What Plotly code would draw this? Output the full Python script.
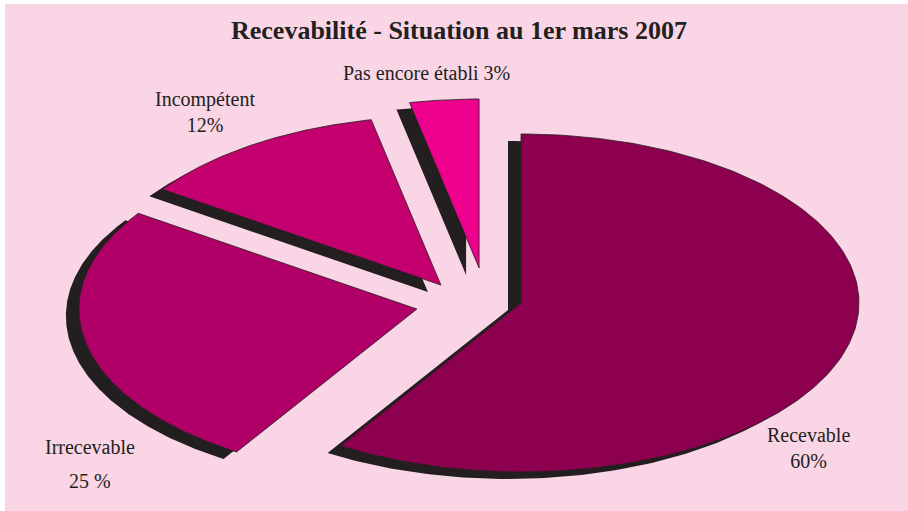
import numpy as np
import plotly.graph_objects as go

# ---- data ----
categories = ["Recevable", "Irrecevable", "Incompétent", "Pas encore établi"]
values = [58.9, 25.6, 12.1, 3.3]           # share of the pie
pct_labels = ["60%", "25 %", "12%", "3%"]  # percentages as printed on the chart
title_text = "Recevabilité - Situation au 1er mars 2007"

# ---- style ----
colors = ["#8c004f", "#b00068", "#c4006f", "#ec008c"]
bg = "#f9d5e5"
shadow_color = "#231f20"
# per-slice explosion offsets (in pie-radius units)
explode = [(0.071, 0.012), (-0.237, -0.024), (-0.166, 0.118), (-0.053, 0.219)]
shadow_off = (-13 / 338, -7 / 169)

W, H = 908, 511
CX, CY = 497, 305      # pie centre in pixels
RX, RY = 338, 169      # pie radii in pixels

fig = go.Figure()

total = sum(values)
start = 90.0
wedges = []
for v, (ox, oy) in zip(values, explode):
    end = start - v / total * 360.0
    t = np.radians(np.linspace(start, end, 200))
    xs = np.concatenate([[ox], ox + np.cos(t), [ox]])
    ys = np.concatenate([[oy], oy + np.sin(t), [oy]])
    wedges.append((xs, ys))
    start = end

for xs, ys in wedges:
    fig.add_trace(go.Scatter(
        x=xs + shadow_off[0], y=ys + shadow_off[1], mode="lines", fill="toself",
        fillcolor=shadow_color, line=dict(width=0, color=shadow_color),
        hoverinfo="skip", showlegend=False))

for (xs, ys), c, name in zip(wedges, colors, categories):
    fig.add_trace(go.Scatter(
        x=xs, y=ys, mode="lines", fill="toself", fillcolor=c,
        line=dict(width=0.8, color=shadow_color), name=name,
        hoverinfo="name", showlegend=False))

fig.update_xaxes(range=[(0 - CX) / RX, (W - CX) / RX], visible=False, fixedrange=True)
fig.update_yaxes(range=[(CY - H) / RY, CY / RY], visible=False, fixedrange=True)

def px(x, y):
    return x / W, 1 - y / H

font = dict(family="Liberation Serif, Times New Roman, serif", size=20, color="#231f20")
annots = [
    (title_text, 459, 30, dict(family="Liberation Serif, serif", size=26, color="#231f20"), True),
    (f"{categories[3]} {pct_labels[3]}", 426, 73, font, False),
    (f"{categories[2]}<br>{pct_labels[2]}", 205, 112, font, False),
    (categories[1], 90, 447, font, False),
    (pct_labels[1], 90, 481, font, False),
    (f"{categories[0]}<br>{pct_labels[0]}", 808, 448, font, False),
]
for text, x, y, f, bold in annots:
    ax, ay = px(x, y)
    fig.add_annotation(text=f"<b>{text}</b>" if bold else text, x=ax, y=ay,
                       xref="paper", yref="paper", showarrow=False,
                       xanchor="center", yanchor="middle", font=f)

# pink panel with a thin white strip at the top and left edges
fig.add_shape(type="rect", xref="paper", yref="paper",
              x0=5 / W, x1=1, y0=0, y1=1 - 4 / H,
              fillcolor=bg, line=dict(width=0), layer="below")

fig.update_layout(
    width=W, height=H, margin=dict(l=0, r=0, t=0, b=0),
    paper_bgcolor="white", plot_bgcolor="rgba(0,0,0,0)", showlegend=False,
)

fig.write_html("out.html")
